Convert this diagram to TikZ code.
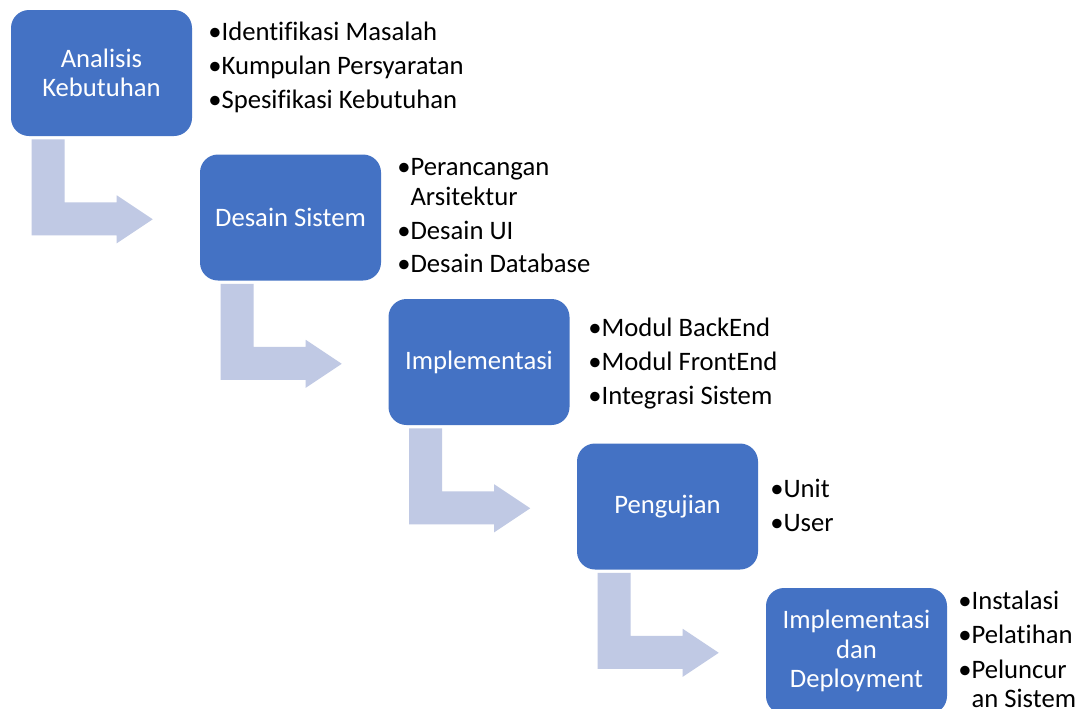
\documentclass[tikz,border=0pt]{standalone}
\usepackage{fontspec}
\setmainfont[Ligatures=NoCommon]{Carlito}
\definecolor{boxblue}{HTML}{4472C4}
\definecolor{arrowblue}{HTML}{C0C9E4}
\begin{document}
\begin{tikzpicture}[x=0.75pt,y=-0.75pt,
  phase/.style={draw=none,fill=boxblue,rounded corners=13.5pt,minimum width=135.75pt,
    minimum height=94.5pt,inner sep=0pt,align=center,text=white,
    font=\fontsize{20}{22.2}\selectfont},
  item/.style={anchor=base west,inner sep=0pt,text=black,font=\fontsize{20}{22.2}\selectfont},
  bent/.style={fill=arrowblue,draw=none}]
\clip (0,0) rectangle (1078,708);
\fill[white] (0,0) rectangle (1078,708);
% phase boxes
\node[phase] (b1) at (101.5,73) {Analisis\\Kebutuhan};
\node[phase] (b2) at (290.5,217.5) {Desain Sistem};
\node[phase] (b3) at (479,362) {Implementasi};
\node[phase] (b4) at (667.5,506.5) {Pengujian};
\node[phase] (b5) at (856.5,651) {Implementasi\\dan\\Deployment};
% bent arrows
\foreach \i in {1,2,3,4}{
  \fill[bent] ([shift={(21,3)}]b\i.south west) -- ++(33,0) -- ++(0,63) -- ++(52,0)
    -- ++(0,-7) -- ++(36,24) -- ++(-36,24) -- ++(0,-8) -- ++(-85,0) -- cycle;
}
% lists
\node[item] (l11) at (208,40) {•Identifikasi Masalah};
\node[item] (l12) at (208,74) {•Kumpulan Persyaratan};
\node[item] (l13) at (208,108) {•Spesifikasi Kebutuhan};
\node[item] (l21) at (397,175) {•Perancangan};
\node[item] (l21b) at (397,205) {\phantom{•}Arsitektur};
\node[item] (l22) at (397,239) {•Desain UI};
\node[item] (l23) at (397,272) {•Desain Database};
\node[item] (l31) at (588,336) {•Modul BackEnd};
\node[item] (l32) at (588,370) {•Modul FrontEnd};
\node[item] (l33) at (588,404) {•Integrasi Sistem};
\node[item] (l41) at (770,497) {•Unit};
\node[item] (l42) at (770,531) {•User};
\node[item] (l51) at (958,609) {•Instalasi};
\node[item] (l52) at (958,643) {•Pelatihan};
\node[item] (l53) at (958,678) {•Peluncur};
\node[item] (l53b) at (958,707) {\phantom{•}an Sistem};
\end{tikzpicture}
\end{document}
